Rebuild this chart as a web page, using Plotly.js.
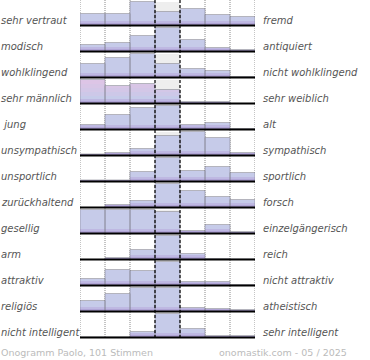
<!DOCTYPE html>
<html>
<head>
<meta charset="utf-8">
<script src="https://cdn.plot.ly/plotly-3.0.1.min.js"></script>
<style>html,body{margin:0;padding:0;background:#fff;}#chart{width:370px;height:360px;}</style>
</head>
<body>
<div id="chart"></div>
<script>
// Left / right pole labels of each scale
const leftLabels = ["sehr vertraut","modisch","wohlklingend","sehr männlich","\u00a0jung","unsympathisch","unsportlich","zurückhaltend","gesellig","arm","attraktiv","religiös","nicht intelligent"];
const rightLabels = ["fremd","antiquiert","nicht wohlklingend","sehr weiblich","alt","sympathisch","sportlich","forsch","einzelgängerisch","reich","nicht attraktiv","atheistisch","sehr intelligent"];
// Relative vote distribution over the 7 steps of each scale
const sehrVertraut   = [12, 12, 24, 14, 17, 11, 9];
const modisch        = [7, 9, 16, 24, 12, 4, 2];
const wohlklingend   = [14, 20, 24, 14, 9, 7, 1];
const maennlich      = [24, 18, 20, 14, 2, 2, 0];
const jung           = [5, 15, 22, 24, 5, 7, 1];
const unsympathisch  = [1.5, 3, 7, 20, 24, 18, 3];
const unsportlich    = [1.5, 1.5, 10, 24, 11, 15, 9];
const zurueckhaltend = [0, 3, 7, 24, 17, 11, 8];
const gesellig       = [24, 24, 24, 22, 3, 9, 2];
const arm            = [0, 2, 10, 24, 6, 1, 0.5];
const attraktiv      = [7, 16, 15, 24, 4, 4, 1];
const religioes      = [11, 18, 24, 24, 4, 3, 2];
const intelligent    = [0.5, 0.5, 6, 24, 9, 2, 2];
const footerLeft = "Onogramm Paolo, 101 Stimmen";
const footerRight = "onomastik.com - 05 / 2025";

const rows = [sehrVertraut, modisch, wohlklingend, maennlich, jung, unsympathisch, unsportlich, zurueckhaltend, gesellig, arm, attraktiv, religioes, intelligent];
const steps = [0.5,1.5,2.5,3.5,4.5,5.5,6.5];

const ROWH = 26, BAR = 24, TOP = 25.5;
const traces = [];
const annotations = [];
const shapes = [];
const labelFont = {family:'DejaVu Sans', size:10, color:'#555', style:'italic'};

rows.forEach((vals, r) => {
  const base = -(TOP + ROWH * r);
  const mx = Math.max(...vals);
  const h = vals.map(v => v / mx * BAR);
  // centre column background
  traces.push({type:'bar', x:[3.5], y:[BAR], base:[base], width:1,
    marker:{color:'#eeeeee', line:{width:0}}});
  // fill
  traces.push({type:'bar', x:steps, y:h, base:steps.map(()=>base), width:1,
    marker:{color:'#c6cbe9', line:{width:0}}});
  if (r === 3) {
    // pinkish gradient toward the top for the gender scale
    const bands = [[8,12,'#cdc8e8'],[12,16,'#d3c7e7'],[16,20,'#d8c6e6'],[20,24,'#ddc5e6']];
    bands.forEach(([lo,hi,c]) => {
      traces.push({type:'bar', x:steps, y:h.map(v => Math.max(0, Math.min(v,hi)-lo)),
        base:steps.map(()=>base+lo), width:1, marker:{color:c, line:{width:0}}});
    });
  }
  // purple bottom gradient
  traces.push({type:'bar', x:steps, y:h.map(v=>Math.min(v,5)), base:steps.map(()=>base), width:1,
    marker:{color:'#beb8e2', line:{width:0}}});
  traces.push({type:'bar', x:steps, y:h.map(v=>Math.min(v,2.5)), base:steps.map(()=>base), width:1,
    marker:{color:'#b0a4d6', line:{width:0}}});
  // outline
  traces.push({type:'bar', x:steps, y:h, base:steps.map(()=>base), width:1,
    marker:{color:'rgba(0,0,0,0)', line:{width:1, color:'rgba(130,130,145,0.6)'}}});
  // baseline
  shapes.push({type:'line', xref:'x', yref:'y', x0:0, x1:7, y0:base, y1:base,
    line:{color:'#000', width:2}, layer:'above'});
  // labels
  annotations.push({xref:'paper', yref:'y', x:(-1-80)/175, y:base+5.5, xanchor:'left', yanchor:'middle',
    text:leftLabels[r], showarrow:false, font:labelFont});
  annotations.push({xref:'paper', yref:'y', x:(261-80)/175, y:base+5.5, xanchor:'left', yanchor:'middle',
    text:rightLabels[r], showarrow:false, font:labelFont});
});

const bottom = -(TOP + ROWH * (rows.length - 1));
[0,1,2,5,6,7].forEach(x => shapes.push({type:'line', xref:'x', yref:'y', x0:x, x1:x, y0:0, y1:bottom,
  line:{color:'#8a8a8a', width:1, dash:'1px,1px'}, layer:'below'}));
[3,4].forEach(x => shapes.push({type:'line', xref:'x', yref:'y', x0:x, x1:x, y0:0, y1:bottom,
  line:{color:'#000', width:1.2, dash:'3px,2px'}, layer:'above'}));

annotations.push({xref:'paper', yref:'y', x:(-1-80)/175, y:-352, xanchor:'left', yanchor:'middle',
  text:footerLeft, showarrow:false, font:{family:'DejaVu Sans', size:9.5, color:'#bbbbbb'}});
annotations.push({xref:'paper', yref:'y', x:(349-80)/175, y:-352, xanchor:'right', yanchor:'middle',
  text:footerRight, showarrow:false, font:{family:'DejaVu Sans', size:9.5, color:'#bbbbbb'}});

const layout = {
  width:370, height:360, margin:{l:80, r:115, t:0, b:0, pad:0},
  paper_bgcolor:'#fff', plot_bgcolor:'rgba(0,0,0,0)',
  barmode:'overlay', bargap:0, showlegend:false,
  xaxis:{range:[0,7], showgrid:false, zeroline:false, showticklabels:false, ticks:'', fixedrange:true},
  yaxis:{range:[-360,0], showgrid:false, zeroline:false, showticklabels:false, ticks:'', fixedrange:true},
  shapes:shapes, annotations:annotations, hovermode:false
};
Plotly.newPlot('chart', traces, layout, {staticPlot:true, displayModeBar:false});
</script>
</body>
</html>
